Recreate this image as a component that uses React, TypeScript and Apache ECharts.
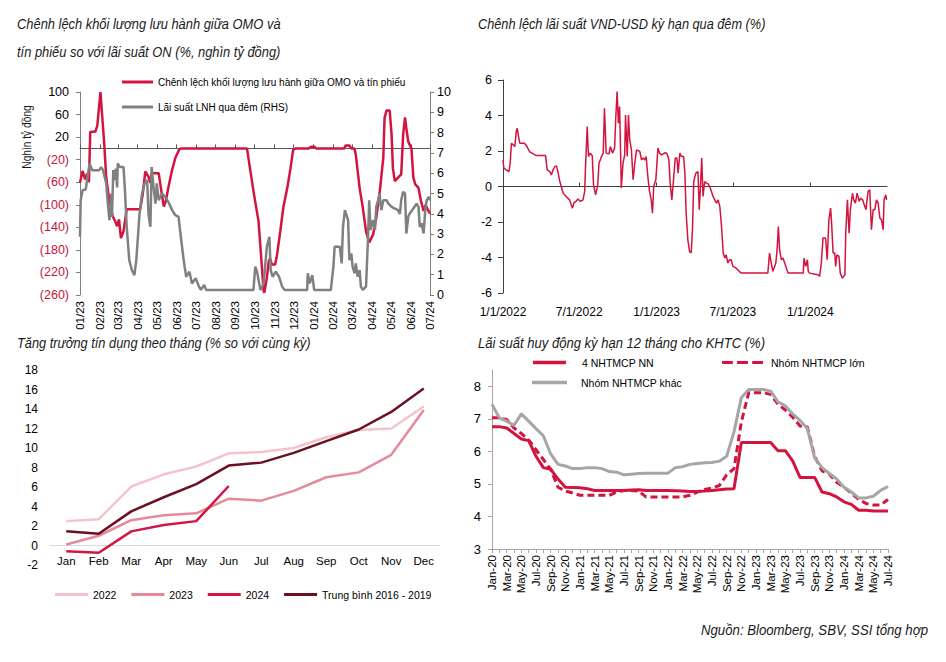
import React, { useEffect, useRef } from 'react';
import * as echarts from 'echarts';

const NARROW = "'Liberation Sans Narrow', 'Arial Narrow', 'Liberation Sans', sans-serif";
const RED = '#d2143f';
const GRAY = '#808080';
const NEG_LABEL = '#c4143a';

// ---------- Panel 1: OMO vs T-bill outstanding gap (left) and interbank ON rate (right) ----------
const omoSeriesName = 'Chênh lệch khối lượng lưu hành giữa OMO và tín phiếu';
const lnhSeriesName = 'Lãi suất LNH qua đêm (RHS)';
const omoMonthTicks = ['2023-01-01','2023-02-01','2023-03-01','2023-04-01','2023-05-01','2023-06-01','2023-07-01','2023-08-01','2023-09-01','2023-10-01','2023-11-01','2023-12-01','2024-01-01','2024-02-01','2024-03-01','2024-04-01','2024-05-01','2024-06-01','2024-07-01'];
const omoLeftTicks = [-260, -220, -180, -140, -100, -60, -20, 20, 60, 100];
const omoSpread: [string, number][] = [
  ['2023-01-01',-61],['2023-01-05',-40],['2023-01-09',-55],['2023-01-12',-45],['2023-01-15',-60],['2023-01-17',29],['2023-01-25',30],['2023-01-28',40],['2023-02-02',100],['2023-02-08',6],['2023-02-11',-52],['2023-02-16',-94],['2023-02-21',-120],['2023-02-26',-132],['2023-02-28',-138],['2023-03-03',-126],['2023-03-06',-159],['2023-03-10',-147],['2023-03-15',-108],['2023-04-05',-108],['2023-04-09',-82],['2023-04-13',-41],['2023-04-18',-50],['2023-04-21',-61],['2023-04-23',-44],['2023-05-04',-44],['2023-05-09',-82],['2023-05-12',-103],['2023-05-15',-94],['2023-05-19',-70],['2023-05-25',-38],['2023-05-30',-17],['2023-06-05',-2],['2023-06-08',0],['2023-09-19',0],['2023-09-22',-23],['2023-09-30',-82],['2023-10-07',-129],['2023-10-12',-206],['2023-10-15',-253],['2023-10-16',-256],['2023-10-20',-230],['2023-10-23',-200],['2023-10-25',-195],['2023-10-28',-206],['2023-11-02',-206],['2023-11-05',-188],['2023-11-10',-147],['2023-11-15',-103],['2023-11-21',-70],['2023-11-26',-35],['2023-11-30',-3],['2023-12-04',0],['2023-12-25',0],['2023-12-28',3],['2024-01-02',3],['2024-01-05',0],['2024-02-18',0],['2024-02-20',5],['2024-02-26',5],['2024-02-29',0],['2024-03-05',0],['2024-03-07',-11],['2024-03-13',-70],['2024-03-18',-105],['2024-03-23',-147],['2024-03-28',-167],['2024-04-03',-153],['2024-04-08',-123],['2024-04-13',-82],['2024-04-19',-17],['2024-04-21',54],['2024-04-24',67],['2024-04-29',67],['2024-05-02',24],['2024-05-04',-35],['2024-05-07',-58],['2024-05-12',-52],['2024-05-17',-46],['2024-05-20',24],['2024-05-23',55],['2024-05-25',36],['2024-05-28',12],['2024-06-02',0],['2024-06-05',-52],['2024-06-08',-64],['2024-06-13',-70],['2024-06-17',-94],['2024-06-21',-111],['2024-06-24',-100],['2024-06-26',-105],['2024-07-01',-116]
];
const lnhRate: [string, number][] = [
  ['2023-01-01',2.87],['2023-01-02',4.67],['2023-01-05',5.16],['2023-01-10',5.2],['2023-01-12',5.66],['2023-01-16',6.48],['2023-01-20',6.15],['2023-01-31',6.15],['2023-02-03',6.3],['2023-02-06',6.15],['2023-02-11',5.5],['2023-02-13',4.67],['2023-02-16',3.69],['2023-02-19',5.0],['2023-02-20',3.85],['2023-02-22',6.15],['2023-02-25',5.66],['2023-02-26',6.23],['2023-02-28',5.3],['2023-03-01',6.48],['2023-03-04',6.3],['2023-03-10',6.3],['2023-03-12',5.3],['2023-03-15',3.36],['2023-03-19',1.72],['2023-03-23',1.23],['2023-03-27',0.98],['2023-03-30',1.72],['2023-04-04',4.0],['2023-04-08',5.0],['2023-04-12',5.5],['2023-04-16',5.66],['2023-04-18',4.0],['2023-04-21',3.36],['2023-04-23',6.3],['2023-04-26',5.3],['2023-04-29',4.5],['2023-05-01',5.5],['2023-05-04',4.67],['2023-05-09',5.0],['2023-05-14',4.84],['2023-05-19',4.59],['2023-05-25',4.18],['2023-05-30',3.93],['2023-06-04',3.85],['2023-06-07',3.03],['2023-06-12',1.72],['2023-06-16',0.9],['2023-06-21',1.15],['2023-06-25',0.57],['2023-07-01',0.82],['2023-07-06',0.41],['2023-07-09',0.25],['2023-07-14',0.5],['2023-07-17',0.25],['2023-09-29',0.25],['2023-10-02',1.4],['2023-10-05',1.1],['2023-10-10',0.25],['2023-10-15',0.57],['2023-10-20',2.38],['2023-10-24',2.87],['2023-10-26',1.23],['2023-10-29',0.9],['2023-11-03',1.15],['2023-11-08',0.9],['2023-11-13',0.41],['2023-11-17',0.25],['2023-12-22',0.25],['2023-12-23',1.07],['2023-12-26',0.57],['2023-12-30',0.98],['2024-01-02',0.25],['2024-01-28',0.25],['2024-02-01',1.4],['2024-02-03',2.38],['2024-02-11',2.38],['2024-02-14',1.56],['2024-02-16',3.36],['2024-02-19',4.18],['2024-02-24',3.69],['2024-02-26',1.72],['2024-02-29',2.05],['2024-03-02',1.4],['2024-03-05',1.07],['2024-03-07',1.56],['2024-03-10',0.9],['2024-03-13',1.23],['2024-03-15',0.41],['2024-03-18',0.25],['2024-03-23',0.41],['2024-03-26',2.7],['2024-03-28',4.67],['2024-03-30',3.2],['2024-04-03',3.69],['2024-04-06',3.2],['2024-04-08',4.34],['2024-04-11',4.67],['2024-04-13',5.0],['2024-04-16',4.18],['2024-04-19',4.67],['2024-04-24',4.67],['2024-04-27',4.5],['2024-05-02',4.34],['2024-05-07',4.26],['2024-05-12',4.18],['2024-05-15',4.0],['2024-05-17',4.67],['2024-05-20',5.08],['2024-05-23',5.0],['2024-05-25',3.03],['2024-05-28',3.85],['2024-05-30',4.0],['2024-06-05',4.26],['2024-06-10',4.5],['2024-06-13',4.34],['2024-06-15',3.36],['2024-06-18',3.53],['2024-06-21',3.03],['2024-06-24',4.34],['2024-06-26',4.67],['2024-06-29',4.84],['2024-07-01',4.67]
];

// ---------- Panel 2: VND-USD overnight spread ----------
const vndTicks = ['2022-01-01','2022-07-01','2023-01-01','2023-07-01','2024-01-01'];
const vndUsdSpread: [string, number][] = [
  ['2022-01-01',1.5],['2022-01-03',1.03],['2022-01-09',0.94],['2022-01-15',0.84],['2022-01-18',1.31],['2022-01-21',2.44],['2022-01-25',2.35],['2022-01-29',2.25],['2022-02-02',3.19],['2022-02-04',3.28],['2022-02-07',2.8],['2022-02-10',2.44],['2022-02-21',2.44],['2022-02-27',2.25],['2022-03-05',1.97],['2022-03-13',1.85],['2022-03-21',1.74],['2022-04-12',1.74],['2022-04-16',0.94],['2022-04-22',0.84],['2022-04-26',0.66],['2022-04-30',0.94],['2022-05-04',1.12],['2022-05-08',1.16],['2022-05-12',0.75],['2022-05-16',0.28],['2022-05-24',-0.38],['2022-05-31',-0.56],['2022-06-08',-0.75],['2022-06-12',-1.03],['2022-06-15',-1.22],['2022-06-18',-0.94],['2022-06-23',-0.84],['2022-06-28',-0.7],['2022-07-04',-0.84],['2022-07-10',-0.75],['2022-07-14',-0.28],['2022-07-16',1.12],['2022-07-20',3.38],['2022-07-23',1.69],['2022-07-27',1.88],['2022-08-01',1.73],['2022-08-04',0.09],['2022-08-09',-0.47],['2022-08-14',0.09],['2022-08-17',1.31],['2022-08-23',1.69],['2022-08-27',1.88],['2022-08-30',4.41],['2022-09-03',1.88],['2022-09-10',1.85],['2022-09-13',2.25],['2022-09-18',1.88],['2022-09-23',2.16],['2022-09-26',3.94],['2022-09-29',5.35],['2022-10-02',3.56],['2022-10-05',4.5],['2022-10-09',-0.09],['2022-10-13',1.31],['2022-10-17',1.78],['2022-10-19',4.03],['2022-10-23',1.69],['2022-10-26',4.03],['2022-10-29',2.63],['2022-11-02',2.06],['2022-11-06',0.38],['2022-11-10',1.31],['2022-11-14',2.06],['2022-11-22',1.97],['2022-11-26',1.5],['2022-11-30',1.6],['2022-12-04',1.5],['2022-12-07',1.69],['2022-12-11',0.56],['2022-12-15',-0.28],['2022-12-19',-0.75],['2022-12-22',-1.5],['2022-12-25',0.0],['2022-12-30',0.38],['2023-01-04',2.16],['2023-01-08',1.88],['2023-01-12',1.78],['2023-01-16',1.83],['2023-01-22',1.91],['2023-01-26',1.83],['2023-01-30',1.5],['2023-02-02',0.19],['2023-02-06',-0.75],['2023-02-10',0.38],['2023-02-14',1.6],['2023-02-18',1.6],['2023-02-21',0.75],['2023-02-25',1.88],['2023-03-01',1.69],['2023-03-06',1.69],['2023-03-09',0.75],['2023-03-12',-1.5],['2023-03-16',-3.0],['2023-03-20',-3.66],['2023-03-24',-3.75],['2023-03-27',-2.44],['2023-03-30',0.28],['2023-04-04',0.75],['2023-04-09',0.84],['2023-04-12',-1.31],['2023-04-15',0.0],['2023-04-18',1.6],['2023-04-21',-0.56],['2023-04-25',0.28],['2023-04-29',0.19],['2023-05-03',0.15],['2023-05-07',0.0],['2023-05-11',-0.28],['2023-05-15',-0.56],['2023-05-19',-0.75],['2023-05-23',-0.94],['2023-05-27',-0.75],['2023-05-31',-1.13],['2023-06-04',-2.25],['2023-06-08',-3.75],['2023-06-12',-4.03],['2023-06-15',-3.85],['2023-06-19',-4.31],['2023-06-23',-4.13],['2023-06-27',-4.13],['2023-07-01',-4.5],['2023-07-09',-4.6],['2023-07-16',-4.78],['2023-07-21',-4.88],['2023-09-22',-4.88],['2023-09-26',-3.75],['2023-09-30',-4.31],['2023-10-04',-4.78],['2023-10-11',-4.31],['2023-10-14',-3.56],['2023-10-17',-2.25],['2023-10-20',-3.56],['2023-10-24',-4.13],['2023-10-28',-4.03],['2023-11-01',-4.31],['2023-11-09',-4.88],['2023-12-15',-4.88],['2023-12-17',-4.03],['2023-12-21',-4.5],['2023-12-25',-4.13],['2023-12-27',-4.78],['2023-12-30',-4.88],['2024-01-19',-4.97],['2024-01-23',-5.06],['2024-01-27',-4.31],['2024-01-31',-2.9],['2024-02-06',-2.9],['2024-02-10',-4.13],['2024-02-14',-1.88],['2024-02-18',-1.22],['2024-02-20',-1.88],['2024-02-24',-3.75],['2024-02-28',-3.75],['2024-03-01',-4.5],['2024-03-04',-3.85],['2024-03-09',-3.94],['2024-03-12',-4.88],['2024-03-17',-5.16],['2024-03-23',-4.97],['2024-03-25',-2.63],['2024-03-29',-0.75],['2024-04-02',-2.63],['2024-04-05',-1.31],['2024-04-10',-0.38],['2024-04-13',-0.75],['2024-04-17',-0.94],['2024-04-21',-0.38],['2024-04-26',-0.84],['2024-04-29',-0.66],['2024-05-04',-0.75],['2024-05-08',-1.03],['2024-05-12',-1.31],['2024-05-17',-0.28],['2024-05-21',-0.19],['2024-05-25',-2.44],['2024-05-29',-1.31],['2024-06-02',-1.31],['2024-06-06',-0.75],['2024-06-10',-0.94],['2024-06-14',-1.78],['2024-06-18',-1.88],['2024-06-22',-2.44],['2024-06-24',-0.75],['2024-06-28',-0.47],['2024-06-30',-0.75]
];

// ---------- Panel 3: monthly credit growth (% yoy) ----------
const creditMonths = ['Jan','Feb','Mar','Apr','May','Jun','Jul','Aug','Sep','Oct','Nov','Dec'];
const credit2022 = [2.5, 2.7, 6.05, 7.3, 8.1, 9.45, 9.6, 10.0, 11.1, 11.85, 12.0, 14.25];
const credit2023 = [0.1, 1.0, 2.6, 3.1, 3.3, 4.8, 4.6, 5.6, 7.0, 7.5, 9.3, 13.9];
const credit2024 = [-0.6, -0.75, 1.45, 2.1, 2.5, 6.1];
const creditAvg1619 = [1.45, 1.2, 3.5, 4.95, 6.3, 8.2, 8.5, 9.5, 10.7, 11.9, 13.7, 16.1];

// ---------- Panel 4: 12M deposit rates ----------
const depositMonths = ['Jan-20','Feb-20','Mar-20','Apr-20','May-20','Jun-20','Jul-20','Aug-20','Sep-20','Oct-20','Nov-20','Dec-20','Jan-21','Feb-21','Mar-21','Apr-21','May-21','Jun-21','Jul-21','Aug-21','Sep-21','Oct-21','Nov-21','Dec-21','Jan-22','Feb-22','Mar-22','Apr-22','May-22','Jun-22','Jul-22','Aug-22','Sep-22','Oct-22','Nov-22','Dec-22','Jan-23','Feb-23','Mar-23','Apr-23','May-23','Jun-23','Jul-23','Aug-23','Sep-23','Oct-23','Nov-23','Dec-23','Jan-24','Feb-24','Mar-24','Apr-24','May-24','Jun-24','Jul-24'];
const depositStateBanks = [6.76,6.76,6.72,6.55,6.38,6.33,5.85,5.5,5.45,5.15,4.9,4.89, 4.88,4.85,4.8,4.8,4.8,4.8,4.8,4.81,4.82,4.8,4.8,4.8, 4.8,4.79,4.78,4.77,4.77,4.78,4.8,4.82,4.84,4.85,6.27,6.27, 6.27,6.27,6.27,6.02,6.02,5.71,5.2,5.2,5.2,4.75,4.7,4.6, 4.45,4.37,4.19,4.19,4.17,4.17,4.17];
const depositLargeBanks = [7.03,7.03,6.98,6.72,6.55,6.35,6.05,5.75,5.45,4.9,4.78,4.72, 4.65,4.65,4.65,4.65,4.65,4.75,4.8,4.8,4.78,4.6,4.6,4.6, 4.6,4.6,4.6,4.65,4.75,4.83,4.87,4.95,5.28,5.47,6.9,7.8, 7.8,7.8,7.75,7.45,7.27,7.05,6.78,6.75,5.85,5.4,5.3,5.05, 4.9,4.72,4.52,4.4,4.35,4.35,4.52];
const depositOtherBanks = [7.45,7.03,6.93,6.8,7.15,6.93,6.7,6.48,5.92,5.6,5.55,5.47, 5.47,5.5,5.5,5.47,5.38,5.36,5.28,5.3,5.32,5.33,5.33,5.33, 5.33,5.5,5.53,5.6,5.63,5.65,5.66,5.7,5.85,6.6,7.65,7.9, 7.9,7.9,7.85,7.52,7.4,7.15,6.95,6.7,5.8,5.5,5.32,5.15, 4.9,4.75,4.57,4.57,4.62,4.8,4.92];
const depositTicks = [3, 4, 5, 6, 7, 8];

const pd = (s: string) => {
  const [y, m, d] = s.split('-').map(Number);
  return new Date(y, m - 1, d).getTime();
};
const fmtMY = (v: any) => {
  const d = new Date(Number(v));
  return String(d.getMonth() + 1).padStart(2, '0') + '/' + String(d.getFullYear()).slice(2);
};
const fmtMDY = (v: any) => {
  const d = new Date(Number(v));
  return `${d.getMonth() + 1}/${d.getDate()}/${d.getFullYear()}`;
};

const txt = (text: string, x: number, y: number, font: string, extra: any = {}) => ({
  type: 'text',
  x,
  y,
  rotation: extra.rotation || 0,
  scaleX: extra.scaleX || 1,
  silent: true,
  style: {
    text,
    font,
    fill: extra.fill || '#1a1a1a',
    align: extra.align || 'left',
    verticalAlign: 'middle',
    textAlign: extra.align || 'left',
    textVerticalAlign: 'middle',
  },
});

export default function App() {
  const ref = useRef<HTMLDivElement>(null);
  useEffect(() => {
    if (!ref.current) return;
    const chart = echarts.init(ref.current, undefined, { renderer: 'svg' });
    const lab = (size: number, extra: any = {}) => ({ fontFamily: NARROW, fontSize: size, color: '#000', ...extra });
    const titleFont = `italic 15px ${NARROW}`;
    const legendBase = {
      selectedMode: false,
      icon: 'rect',
      itemHeight: 3,
      orient: 'horizontal',
      textStyle: lab(10.5),
      padding: 0,
    };
    const dashIcon = 'path://M0,0h10v3h-10z M14,0h10v3h-10z M28,0h10v3h-10z';
    const omoMin = pd('2023-01-01');
    const omoMax = pd('2024-07-01');
    const vndMin = pd('2022-01-01');
    const vndMax = pd('2024-07-01');
    // panel 3 plot: 195px tall for 20 units (-2..18); the category axis is lifted to the 0 line
    const creditZeroOffset = -(195 * 2) / 20;

    const option: any = {
      animation: false,
      backgroundColor: '#ffffff',
      textStyle: { fontFamily: NARROW },
      grid: [
        { left: 80, top: 92, width: 350, height: 203 },
        { left: 503, top: 80, width: 384, height: 213 },
        { left: 50, top: 370, width: 390, height: 195 },
        { left: 492, top: 370, width: 396, height: 179 },
      ],
      xAxis: [
        {
          type: 'value', gridIndex: 0, position: 'bottom', min: omoMin, max: omoMax,
          axisLine: { show: false, onZero: false }, axisTick: { show: false }, splitLine: { show: false },
          axisLabel: { customValues: omoMonthTicks.map(pd), formatter: fmtMY, rotate: 90, margin: 6, hideOverlap: false, ...lab(11.5) },
        },
        {
          type: 'value', gridIndex: 0, position: 'bottom', min: omoMin, max: omoMax,
          axisLine: { show: true, onZero: true, onZeroAxisIndex: 0, lineStyle: { color: '#595959', width: 1 } },
          axisTick: { show: true, inside: true, length: 4, customValues: omoMonthTicks.map(pd), lineStyle: { color: '#595959' } },
          axisLabel: { show: false }, splitLine: { show: false },
        },
        {
          type: 'value', gridIndex: 1, position: 'bottom', min: vndMin, max: vndMax,
          axisLine: { show: false, onZero: false }, axisTick: { show: false }, splitLine: { show: false },
          axisLabel: { customValues: vndTicks.map(pd), formatter: fmtMDY, margin: 13, hideOverlap: false, ...lab(12) },
        },
        {
          type: 'value', gridIndex: 1, position: 'bottom', min: vndMin, max: vndMax,
          axisLine: { show: true, onZero: true, onZeroAxisIndex: 2, lineStyle: { color: '#404040', width: 1 } },
          axisTick: { show: true, inside: true, length: 4, customValues: vndTicks.map(pd), lineStyle: { color: '#404040' } },
          axisLabel: { show: false }, splitLine: { show: false },
        },
        {
          type: 'category', gridIndex: 2, data: creditMonths, boundaryGap: true, position: 'bottom',
          offset: creditZeroOffset,
          axisLine: { show: true, onZero: false, lineStyle: { color: '#d9d9d9', width: 1 } },
          axisTick: { show: false }, splitLine: { show: false },
          axisLabel: { margin: 9, ...lab(11.5) },
        },
        {
          type: 'category', gridIndex: 3, data: depositMonths, boundaryGap: false,
          axisLine: { show: true, onZero: false, lineStyle: { color: '#a6a6a6', width: 1 } },
          axisTick: { show: true, interval: 0, length: 4, lineStyle: { color: '#a6a6a6' } },
          splitLine: { show: false },
          axisLabel: { interval: 1, rotate: 90, margin: 6, ...lab(11.5) },
        },
      ],
      yAxis: [
        {
          type: 'value', gridIndex: 0, position: 'left', min: -260, max: 100,
          axisLine: { show: true, onZero: false, lineStyle: { color: '#808080' } },
          axisTick: { show: true, length: 4, customValues: omoLeftTicks, lineStyle: { color: '#808080' } },
          splitLine: { show: false },
          axisLabel: {
            customValues: omoLeftTicks, margin: 11, ...lab(12.5),
            formatter: (v: number) => (Number(v) < 0 ? `(${-Number(v)})` : `${v}`),
            color: (v: any) => (Number(v) < 0 ? NEG_LABEL : '#000'),
          },
        },
        {
          type: 'value', gridIndex: 0, position: 'right', min: 0, max: 10, interval: 1,
          axisLine: { show: true, onZero: false, lineStyle: { color: '#808080' } },
          axisTick: { show: true, length: 4, lineStyle: { color: '#808080' } },
          splitLine: { show: false },
          axisLabel: { margin: 7, ...lab(12.5) },
        },
        {
          type: 'value', gridIndex: 1, min: -6, max: 6, interval: 2,
          axisLine: { show: true, onZero: false, lineStyle: { color: '#404040' } },
          axisTick: { show: true, length: 5, lineStyle: { color: '#404040' } },
          splitLine: { show: false },
          axisLabel: { margin: 11, ...lab(12.5) },
        },
        {
          type: 'value', gridIndex: 2, min: -2, max: 18, interval: 2,
          axisLine: { show: false, onZero: false }, axisTick: { show: false }, splitLine: { show: false },
          axisLabel: { margin: 12, ...lab(12) },
        },
        {
          type: 'value', gridIndex: 3, min: 3, max: 8.5,
          axisLine: { show: true, onZero: false, lineStyle: { color: '#a6a6a6' } },
          axisTick: { show: true, length: 4, customValues: depositTicks, lineStyle: { color: '#a6a6a6' } },
          splitLine: { show: false },
          axisLabel: { customValues: depositTicks, margin: 11, ...lab(13) },
        },
      ],
      legend: [
        { ...legendBase, data: [omoSeriesName], left: 122, top: 77, itemWidth: 31, textStyle: lab(10) },
        { ...legendBase, data: [lnhSeriesName], left: 122, top: 102, itemWidth: 31, textStyle: lab(10) },
        { ...legendBase, data: ['2022', '2023', '2024', 'Trung bình 2016 - 2019'], left: 55, top: 589, itemWidth: 33, itemGap: 15 },
        { ...legendBase, data: ['4 NHTMCP NN'], left: 533, top: 357, itemWidth: 33, itemHeight: 3.5, textStyle: lab(10.5, { padding: [0, 0, 0, 11] }) },
        { ...legendBase, data: [{ name: 'Nhóm NHTMCP lớn', icon: dashIcon }], left: 722, top: 357, itemWidth: 41, itemHeight: 3.5, textStyle: lab(10.5, { padding: [0, 0, 0, 3] }) },
        { ...legendBase, data: ['Nhóm NHTMCP khác'], left: 532, top: 377, itemWidth: 35, itemHeight: 3.5, textStyle: lab(10.5, { padding: [0, 0, 0, 9] }) },
      ],
      series: [
        {
          name: omoSeriesName, type: 'line', xAxisIndex: 0, yAxisIndex: 0, symbol: 'none',
          data: omoSpread.map(([d, v]) => [pd(d), v]), lineStyle: { color: RED, width: 2.5 }, itemStyle: { color: RED },
        },
        {
          name: lnhSeriesName, type: 'line', xAxisIndex: 0, yAxisIndex: 1, symbol: 'none',
          data: lnhRate.map(([d, v]) => [pd(d), v]), lineStyle: { color: GRAY, width: 2.5 }, itemStyle: { color: GRAY },
        },
        {
          name: 'VND-USD', type: 'line', xAxisIndex: 2, yAxisIndex: 2, symbol: 'none',
          data: vndUsdSpread.map(([d, v]) => [pd(d), v]), lineStyle: { color: RED, width: 1.5 }, itemStyle: { color: RED },
        },
        { name: '2022', type: 'line', xAxisIndex: 4, yAxisIndex: 3, symbol: 'none', data: credit2022, lineStyle: { color: '#f4c3cc', width: 2.5 }, itemStyle: { color: '#f4c3cc' } },
        { name: '2023', type: 'line', xAxisIndex: 4, yAxisIndex: 3, symbol: 'none', data: credit2023, lineStyle: { color: '#e68a9b', width: 2.5 }, itemStyle: { color: '#e68a9b' } },
        { name: '2024', type: 'line', xAxisIndex: 4, yAxisIndex: 3, symbol: 'none', data: credit2024, lineStyle: { color: '#d4153f', width: 2.5 }, itemStyle: { color: '#d4153f' } },
        { name: 'Trung bình 2016 - 2019', type: 'line', xAxisIndex: 4, yAxisIndex: 3, symbol: 'none', data: creditAvg1619, lineStyle: { color: '#6b1023', width: 2.5 }, itemStyle: { color: '#6b1023' } },
        { name: '4 NHTMCP NN', type: 'line', xAxisIndex: 5, yAxisIndex: 4, symbol: 'none', data: depositStateBanks, lineStyle: { color: RED, width: 3 }, itemStyle: { color: RED } },
        { name: 'Nhóm NHTMCP lớn', type: 'line', xAxisIndex: 5, yAxisIndex: 4, symbol: 'none', data: depositLargeBanks, lineStyle: { color: RED, width: 3, type: [7, 4] }, itemStyle: { color: RED } },
        { name: 'Nhóm NHTMCP khác', type: 'line', xAxisIndex: 5, yAxisIndex: 4, symbol: 'none', data: depositOtherBanks, lineStyle: { color: '#a6a6a6', width: 3 }, itemStyle: { color: '#a6a6a6' } },
      ],
      graphic: [
        txt('Chênh lệch khối lượng lưu hành giữa OMO và', 17, 24, titleFont, { scaleX: 0.86 }),
        txt('tín phiếu so với lãi suất ON (%, nghìn tỷ đồng)', 17, 52, titleFont, { scaleX: 0.86 }),
        txt('Chênh lệch lãi suất VND-USD kỳ hạn qua đêm (%)', 478, 24, titleFont, { scaleX: 0.85 }),
        txt('Tăng trưởng tín dụng theo tháng (% so với cùng kỳ)', 17, 343, titleFont, { scaleX: 0.855 }),
        txt('Lãi suất huy động kỳ hạn 12 tháng cho KHTC (%)', 478, 343, titleFont, { scaleX: 0.87 }),
        txt('Nghìn tỷ đồng', 27, 137, `12px ${NARROW}`, { rotation: Math.PI / 2, align: 'center', scaleX: 0.85 }),
        txt('Nguồn: Bloomberg, SBV, SSI tổng hợp', 928, 630, `italic 14.5px ${NARROW}`, { align: 'right', scaleX: 0.91 }),
      ],
    };
    chart.setOption(option);
    return () => chart.dispose();
  }, []);
  return <div ref={ref} style={{ position: 'absolute', left: 0, top: 0, width: 946, height: 662 }} />;
}
